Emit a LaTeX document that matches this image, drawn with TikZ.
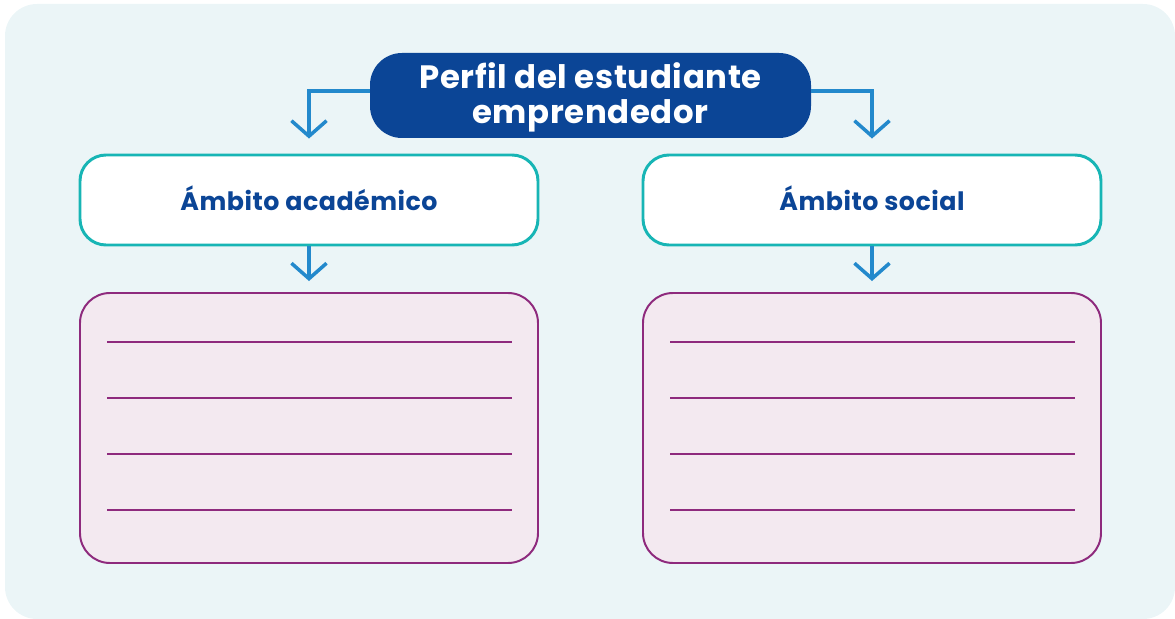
\documentclass[tikz,border=0pt]{standalone}
\usepackage{fontspec}
\setmainfont{Poppins}
\newfontfamily\headfont[LetterSpace=2]{Poppins}
\usetikzlibrary{arrows.meta,calc}
\definecolor{bgc}{HTML}{EBF5F7}
\definecolor{navy}{HTML}{0B4596}
\definecolor{arrowc}{HTML}{2389CC}
\definecolor{tealc}{HTML}{17B5B5}
\definecolor{pinkf}{HTML}{F3E9F0}
\definecolor{purp}{HTML}{8E2A7D}
\tikzset{
  titlebox/.style={fill=navy, draw=none, rounded corners=0.8cm, minimum width=11.025cm, minimum height=2.125cm, text=white, font=\headfont\bfseries\fontsize{23}{24.5}\selectfont, align=center, inner sep=0pt},
  ambox/.style={fill=white, draw=tealc, line width=2.1pt, rounded corners=0.65cm, minimum width=11.45cm, minimum height=2.25cm, text=navy, font=\headfont\bfseries\fontsize{18}{20}\selectfont, inner sep=0pt},
  writebox/.style={fill=pinkf, draw=purp, line width=1.4pt, rounded corners=0.75cm, minimum width=11.45cm, minimum height=6.75cm, inner sep=0pt},
  conn/.style={draw=arrowc, line width=2.5pt, -{Straight Barb[length=11pt,width=25pt,line width=2.5pt]}},
  wline/.style={draw=purp, line width=1pt}
}
\begin{document}
\begin{tikzpicture}
\useasboundingbox (0,0) rectangle (29.375,-15.475);
\fill[bgc, rounded corners=0.8cm] (0.125,-0.1) rectangle (29.375,-15.475);
\node[titlebox] (T) at (14.7625,-2.3875) {\rule{0pt}{21pt}Perfil del estudiante\\emprendedor};
\node[ambox] (A) at (7.725,-5.0) {\raisebox{2pt}{Ámbito académico}};
\node[ambox] (B) at (21.8,-5.0) {\raisebox{2pt}{Ámbito social}};
\node[writebox] (P) at (7.725,-10.7) {};
\node[writebox] (Q) at (21.8,-10.7) {};
\draw[conn, shorten >=0.375cm] ([yshift=0.11cm]T.west) -| (A.north);
\draw[conn, shorten >=0.375cm] ([yshift=0.11cm]T.east) -| (B.north);
\draw[conn, shorten >=0.275cm] (A.south) -- (P.north);
\draw[conn, shorten >=0.275cm] (B.south) -- (Q.north);
\foreach \b in {P,Q}{
  \foreach \d in {1.25,2.65,4.05,5.45}{
    \draw[wline] ($(\b.north west)+(0.7,-\d)$) -- ($(\b.north east)+(-0.675,-\d)$);
  }
}
\end{tikzpicture}
\end{document}
